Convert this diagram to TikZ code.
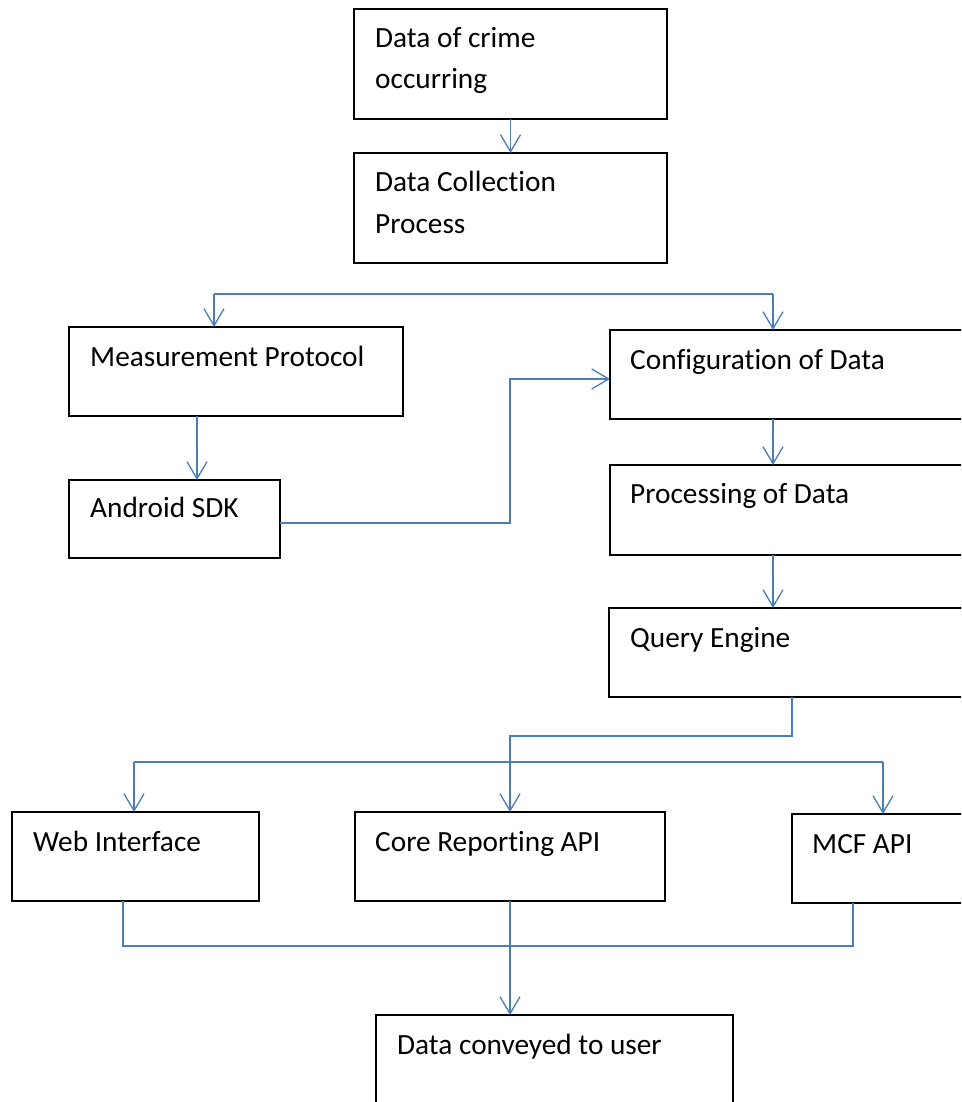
\documentclass[tikz,border=0pt]{standalone}
\usepackage{fontspec}
\setmainfont[Ligatures={NoCommon}]{Carlito}
\usetikzlibrary{arrows.meta}
\definecolor{connc}{HTML}{4A7EBB}
\begin{document}
\begin{tikzpicture}[x=1pt,y=-1pt,
  box/.style={draw=black, line width=1.4pt, inner sep=0pt, outer sep=0pt, anchor=north west},
  lbl/.style={anchor=base west, inner sep=0pt, font=\fontsize{29.3}{41}\selectfont, align=left},
  conn/.style={draw=connc, line width=1.3pt},
  arr/.style={conn, -{Straight Barb[length=17pt,width=20pt,line width=1.3pt]}}]
\useasboundingbox (0,0) rectangle (961,1102);
\clip (0,0) rectangle (961,1102);
\fill[white] (0,0) rectangle (961,1102);

% boxes
\node[box, minimum width=313pt, minimum height=110pt] (b1) at (354,9) {};
\node[box, minimum width=313pt, minimum height=110pt] (b2) at (354,153) {};
\node[box, minimum width=334pt, minimum height=89pt] (b3) at (69,327) {};
\node[box, minimum width=211pt, minimum height=78pt] (b4) at (69,480) {};
\node[box, minimum width=400pt, minimum height=89pt] (b5) at (610,330) {};
\node[box, minimum width=400pt, minimum height=90pt] (b6) at (610,465) {};
\node[box, minimum width=400pt, minimum height=89pt] (b7) at (609,608) {};
\node[box, minimum width=247pt, minimum height=89pt] (b8) at (12,812) {};
\node[box, minimum width=310pt, minimum height=89pt] (b9) at (355,812) {};
\node[box, minimum width=300pt, minimum height=89pt] (b10) at (792,814) {};
\node[box, minimum width=357pt, minimum height=150pt] (b11) at (376,1015) {};

% labels (base = baseline of the last line)
\node[lbl] (t1) at ([shift={(21,80)}]b1.north west) {Data of crime\\occurring};
\node[lbl] (t2) at ([shift={(21,80)}]b2.north west) {Data Collection\\Process};
\node[lbl] (t3) at ([shift={(21,39)}]b3.north west) {Measurement Protocol};
\node[lbl] (t4) at ([shift={(21,37)}]b4.north west) {Android SDK};
\node[lbl] (t5) at ([shift={(20,39)}]b5.north west) {Configuration of Data};
\node[lbl] (t6) at ([shift={(20,38)}]b6.north west) {Processing of Data};
\node[lbl] (t7) at ([shift={(21,39)}]b7.north west) {Query Engine};
\node[lbl] (t8) at ([shift={(21,39)}]b8.north west) {Web Interface};
\node[lbl] (t9) at ([shift={(20,39)}]b9.north west) {Core Reporting API};
\node[lbl] (t10) at ([shift={(20,39)}]b10.north west) {MCF API};
\node[lbl] (t11) at ([shift={(21,39)}]b11.north west) {Data conveyed to user};

% connectors
\draw[arr] (b1.south) -- (b2.north);

\coordinate (s1) at (214,294);
\coordinate (s2) at (773,294);
\draw[conn] (s1) -- (s2);
\draw[arr] (s1) -- (s1 |- b3.north);
\draw[arr] (s2) -- (s2 |- b5.north);

\draw[arr] ([shift={(128,0)}]b3.south west) -- ([shift={(128,0)}]b4.north west);

\coordinate (j1) at (510,523);
\coordinate (j2) at (510,379);
\draw[arr] (b4.east |- j1) -- (j1) -- (j2) -- (b5.west |- j2);

\draw[arr] ([shift={(163,0)}]b5.south west) -- ([shift={(163,0)}]b6.north west);
\draw[arr] ([shift={(163,0)}]b6.south west) -- ([shift={(164,0)}]b7.north west);

\coordinate (q1) at (792,736);
\coordinate (q2) at (510,736);
\draw[arr] ([shift={(183,0)}]b7.south west) -- (q1) -- (q2) -- (q2 |- b9.north);

\coordinate (h1) at (134,762);
\coordinate (h2) at (883,762);
\draw[conn] (h1) -- (h2);
\draw[arr] (h1) -- (h1 |- b8.north);
\draw[arr] (h2) -- (h2 |- b10.north);

\coordinate (m1) at (123,946);
\coordinate (m2) at (853,946);
\draw[conn] ([shift={(111,0)}]b8.south west) -- (m1) -- (m2) -- ([shift={(61,0)}]b10.south west);
\draw[arr] (b9.south) -- (b9.south |- b11.north);
\end{tikzpicture}
\end{document}
